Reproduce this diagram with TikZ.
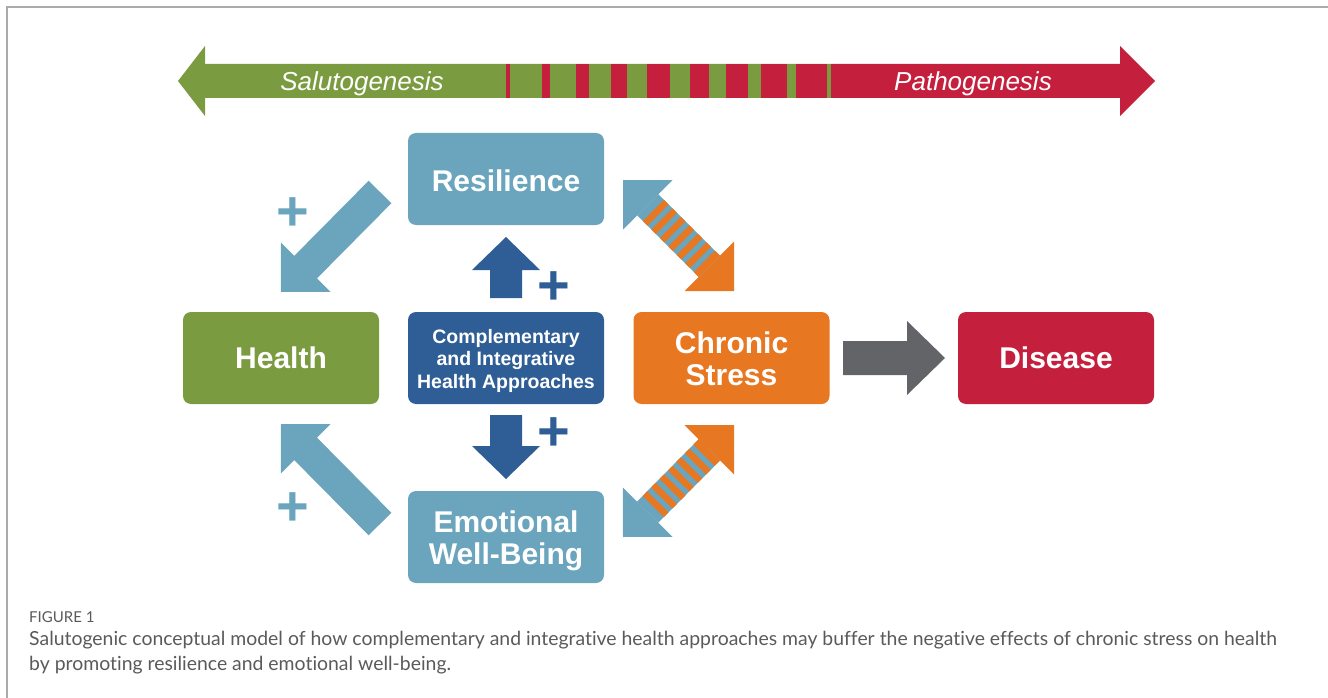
\documentclass[tikz,border=0pt]{standalone}
\usepackage{fontspec}
\setmainfont{Liberation Sans}
\newfontfamily\capfont[Ligatures={NoCommon}]{Lato}
\usetikzlibrary{calc}

\definecolor{salgreen}{HTML}{7A9B3F}
\definecolor{patred}{HTML}{C51F3E}
\definecolor{lightblue}{HTML}{6AA5BD}
\definecolor{darkblue}{HTML}{2E5E95}
\definecolor{stressorange}{HTML}{E87722}
\definecolor{arrowgray}{HTML}{636467}
\definecolor{captiongray}{HTML}{5A5A5A}
\definecolor{framegray}{HTML}{AAAAAA}

% Block arrow: #1 fill, #2 tail, #3 tip, #4 half shaft width, #5 head length, #6 half head width
\newcommand\blockarrow[6]{%
  \coordinate (ba-b) at ($(#3)!#5!(#2)$);
  \fill[#1] ($(#2)!#4!90:(#3)$) -- ($(ba-b)!#4!90:(#3)$) -- ($(ba-b)!#6!90:(#3)$)
    -- (#3) -- ($(ba-b)!#6!-90:(#3)$) -- ($(ba-b)!#4!-90:(#3)$) -- ($(#2)!#4!-90:(#3)$) -- cycle;
}

% Two-headed arrow, blue head at #1, orange head at #2, striped shaft
\newcommand\stripedarrow[2]{%
  \coordinate (sa-b1) at ($(#1)!35pt!(#2)$);
  \coordinate (sa-b2) at ($(#2)!35pt!(#1)$);
  \fill[lightblue] (#1) -- ($(sa-b1)!35pt!90:(#2)$) -- ($(sa-b1)!35pt!-90:(#2)$) -- cycle;
  \fill[stressorange] (#2) -- ($(sa-b2)!35pt!90:(#1)$) -- ($(sa-b2)!35pt!-90:(#1)$) -- cycle;
  \fill[lightblue] ($(sa-b1)!15pt!90:(#2)$) -- ($(sa-b1)!15pt!-90:(#2)$)
    -- ($(sa-b2)!15pt!90:(#1)$) -- ($(sa-b2)!15pt!-90:(#1)$) -- cycle;
  \foreach \k in {0,...,5}{%
    \pgfmathsetmacro\sa{8+12*\k}%
    \pgfmathsetmacro\sb{\sa+6.5}%
    \coordinate (s1) at ($(sa-b1)!\sa pt!(sa-b2)$);
    \coordinate (s2) at ($(sa-b1)!\sb pt!(sa-b2)$);
    \fill[stressorange] ($(s1)!15pt!90:(#2)$) -- ($(s2)!15pt!90:(#2)$)
      -- ($(s2)!15pt!-90:(#2)$) -- ($(s1)!15pt!-90:(#2)$) -- cycle;
  }
  \coordinate (s1) at ($(sa-b1)!80pt!(sa-b2)$);
  \fill[stressorange] ($(s1)!15pt!90:(#2)$) -- ($(sa-b2)!15.2pt!-90:(#1)$)
    -- ($(sa-b2)!15.2pt!90:(#1)$) -- ($(s1)!15pt!-90:(#2)$) -- cycle;
}

\tikzset{
  box/.style={rounded corners=8pt, minimum width=196pt, minimum height=92pt, inner sep=0pt},
  boxtext/.style={inner sep=0pt, text=white, align=center, font=\bfseries\fontsize{30}{32}\selectfont},
  plus/.style={inner sep=0pt, font=\bfseries\fontsize{56}{56}\selectfont},
  bandtext/.style={text=white, inner sep=0pt, font=\itshape\fontsize{26}{26}\selectfont},
  caption/.style={anchor=base west, inner sep=0pt, text=captiongray}
}

\begin{document}
\begin{tikzpicture}[x=1pt,y=-1pt]
\useasboundingbox (0,0) rectangle (1328,698);

% frame lines
\draw[framegray, line width=2pt] (7,698) -- (7,7) -- (1328,7);

% salutogenesis / pathogenesis band
\fill[salgreen] (178,81) -- (205,46) -- (205,64) -- (831,64) -- (831,98) -- (205,98) -- (205,116) -- cycle;
\fill[patred] (831,64) -- (1120,64) -- (1120,46) -- (1155,81) -- (1120,116) -- (1120,98) -- (831,98) -- cycle;
\foreach \a/\b in {506/510, 542/550, 576/589, 611/627, 647/670, 690/709, 726/748, 761/787, 796/827}
  \fill[patred] (\a,64) rectangle (\b,98);
\node[bandtext] (salu) at (362,83.5) {Salutogenesis};
\node[bandtext] (patho) at (973,83.5) {Pathogenesis};

% boxes
\node[box, fill=lightblue] (res) at (506,179) {};
\node[box, fill=salgreen] (health) at (281,358) {};
\node[box, fill=darkblue] (cih) at (506,358) {};
\node[box, fill=stressorange] (stress) at (731.5,358) {};
\node[box, fill=patred] (disease) at (1056,358) {};
\node[box, fill=lightblue] (ewb) at (506,537) {};

% box labels
\node[boxtext] (resText) at ($(res.center)+(0,2)$) {Resilience};
\node[boxtext] (healthText) at (health.center) {Health};
\node[boxtext, font=\bfseries\fontsize{19.5}{22.5}\selectfont] (cihText) at ($(cih.center)+(0,2.5)$)
  {Complementary\\and Integrative\\Health Approaches};
\node[boxtext] (stressText) at ($(stress.center)+(0,1)$) {Chronic\\Stress};
\node[boxtext] (diseaseText) at (disease.center) {Disease};
\node[boxtext] (ewbText) at ($(ewb.center)+(0,4)$) {Emotional\\Well-Being};

% arrow end points
\coordinate (upTail) at (506,298);
\coordinate (upTip) at (506,237);
\coordinate (dnTail) at (506,415);
\coordinate (dnTip) at (506,479);
\coordinate (hUpTail) at (380,192);
\coordinate (hUpTip) at (281,292);
\coordinate (hDnTail) at (380,524);
\coordinate (hDnTip) at (281,424);
\coordinate (grTail) at (843,358);
\coordinate (grTip) at (945,358);
\coordinate (rsBlue) at (623,180);
\coordinate (rsOrange) at (734,291);
\coordinate (esBlue) at (623,537);
\coordinate (esOrange) at (734,425);

% arrows
\blockarrow{darkblue}{upTail}{upTip}{16pt}{33pt}{34pt}
\blockarrow{darkblue}{dnTail}{dnTip}{16pt}{33pt}{34pt}
\blockarrow{lightblue}{hUpTail}{hUpTip}{16pt}{35pt}{35pt}
\blockarrow{lightblue}{hDnTail}{hDnTip}{16pt}{35pt}{35pt}
\blockarrow{arrowgray}{grTail}{grTip}{17pt}{38pt}{37pt}
\stripedarrow{rsBlue}{rsOrange}
\stripedarrow{esBlue}{esOrange}

% plus signs
\node[plus, text=lightblue] (plusHU) at (293,214) {+};
\node[plus, text=lightblue] (plusHD) at (293,509) {+};
\node[plus, text=darkblue] (plusUp) at (554,288) {+};
\node[plus, text=darkblue] (plusDn) at (554,434) {+};

% caption
\node[caption, font=\capfont\fontsize{15}{18}\selectfont] (figlabel) at (29,622) {FIGURE 1};
\node[caption, font=\capfont\fontsize{19.4}{24}\selectfont] (cap1) at (29,645)
  {Salutogenic conceptual model of how complementary and integrative health approaches may buffer the negative effects of chronic stress on health};
\node[caption, font=\capfont\fontsize{19.4}{24}\selectfont] (cap2) at (29,670)
  {by promoting resilience and emotional well-being.};
\end{tikzpicture}
\end{document}
